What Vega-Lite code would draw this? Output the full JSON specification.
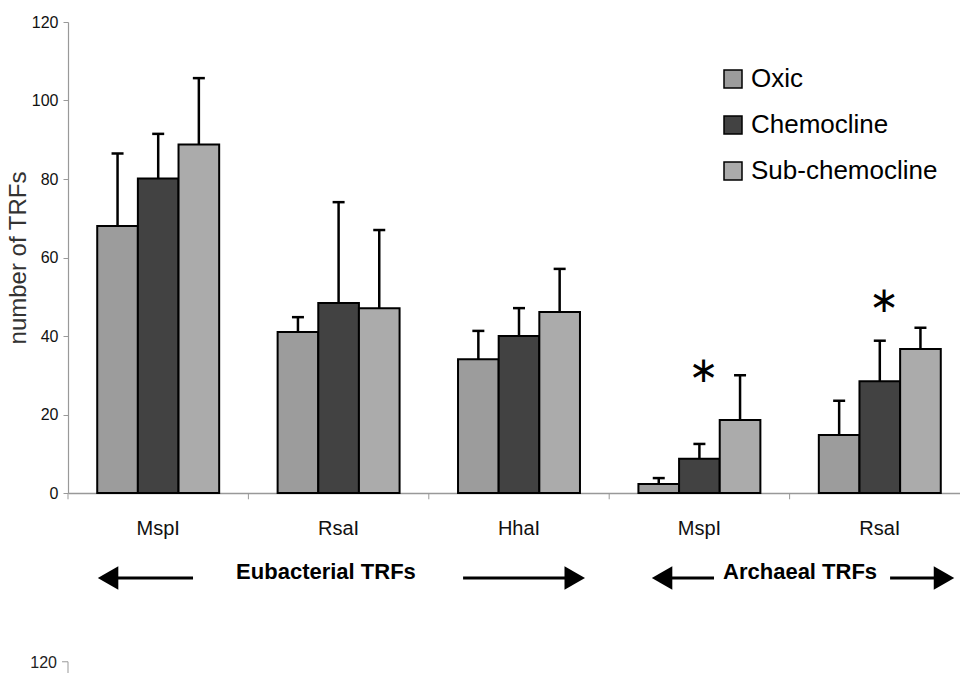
{
  "$schema": "https://vega.github.io/schema/vega-lite/v6.json",
  "autosize": "none",
  "width": 892,
  "height": 471,
  "padding": {"left": 68, "top": 22, "right": 0, "bottom": 180},
  "background": "white",
  "config": {"view": {"stroke": null}, "font": "Liberation Sans"},
  "datasets": {
    "bars": [
      {"cat": "E-MspI", "series": "Oxic", "value": 68.0, "upper": 86.5},
      {"cat": "E-MspI", "series": "Chemocline", "value": 80.1, "upper": 91.5},
      {"cat": "E-MspI", "series": "Sub-chemocline", "value": 88.8, "upper": 105.7},
      {"cat": "E-RsaI", "series": "Oxic", "value": 41.0, "upper": 44.8},
      {"cat": "E-RsaI", "series": "Chemocline", "value": 48.4, "upper": 74.1},
      {"cat": "E-RsaI", "series": "Sub-chemocline", "value": 47.1, "upper": 67.0},
      {"cat": "E-HhaI", "series": "Oxic", "value": 34.1, "upper": 41.3},
      {"cat": "E-HhaI", "series": "Chemocline", "value": 40.0, "upper": 47.1},
      {"cat": "E-HhaI", "series": "Sub-chemocline", "value": 46.1, "upper": 57.1},
      {"cat": "A-MspI", "series": "Oxic", "value": 2.3, "upper": 3.8},
      {"cat": "A-MspI", "series": "Chemocline", "value": 8.7, "upper": 12.5},
      {"cat": "A-MspI", "series": "Sub-chemocline", "value": 18.6, "upper": 30.0},
      {"cat": "A-RsaI", "series": "Oxic", "value": 14.8, "upper": 23.5},
      {"cat": "A-RsaI", "series": "Chemocline", "value": 28.5, "upper": 38.8},
      {"cat": "A-RsaI", "series": "Sub-chemocline", "value": 36.7, "upper": 42.1}
    ],
    "stars": [
      {"cat": "A-MspI", "series": "Chemocline", "y": 31.8, "label": "∗"},
      {"cat": "A-RsaI", "series": "Chemocline", "y": 49.7, "label": "∗"}
    ],
    "shafts": [
      {"u": 0.222, "u2": 0.693, "y": -21.66},
      {"u": 2.190, "u2": 2.809, "y": -21.66},
      {"u": 3.293, "u2": 3.581, "y": -21.66},
      {"u": 4.557, "u2": 4.856, "y": -21.66}
    ],
    "heads": [
      {"u": 0.222, "y": -21.66, "shape": "triangle-left"},
      {"u": 2.809, "y": -21.66, "shape": "triangle-right"},
      {"u": 3.293, "y": -21.66, "shape": "triangle-left"},
      {"u": 4.856, "y": -21.66, "shape": "triangle-right"}
    ],
    "groups": [
      {"u": 1.430, "y": -21.9, "label": "Eubacterial TRFs"},
      {"u": 4.058, "y": -21.9, "label": "Archaeal TRFs"}
    ],
    "xticks": [
      {"u": 0, "y": 0, "y2": -1.6},
      {"u": 1, "y": 0, "y2": -1.6},
      {"u": 2, "y": 0, "y2": -1.6},
      {"u": 3, "y": 0, "y2": -1.6},
      {"u": 4, "y": 0, "y2": -1.6},
      {"u": 0, "y": -43.0, "y2": -47.0}
    ],
    "nextTick": [
      {"u": -0.033, "u2": 0, "y": -43.0}
    ],
    "nextLabel": [
      {"u": -0.061, "y": -43.3, "label": "120"}
    ]
  },
  "layer": [
    {
      "data": {"name": "bars"},
      "encoding": {
        "x": {
          "field": "cat",
          "type": "nominal",
          "sort": null,
          "scale": {
            "domain": ["E-MspI", "E-RsaI", "E-HhaI", "A-MspI", "A-RsaI"],
            "range": [0, 902],
            "paddingInner": 0.324,
            "paddingOuter": 0.162
          },
          "axis": {
            "title": null,
            "labelExpr": "slice(datum.label, 2)",
            "labelAngle": 0,
            "tickSize": 0,
            "labelPadding": 25,
            "labelFontSize": 20,
            "labelFont": "Liberation Sans",
            "labelColor": "#111",
            "domainColor": "#999",
            "domainWidth": 1.5
          }
        },
        "xOffset": {
          "field": "series",
          "type": "nominal",
          "sort": null,
          "scale": {"domain": ["Oxic", "Chemocline", "Sub-chemocline"], "paddingInner": 0, "paddingOuter": 0}
        }
      },
      "layer": [
        {
          "mark": {"type": "bar", "stroke": "black", "strokeWidth": 2},
          "encoding": {
            "y": {
              "field": "value",
              "type": "quantitative",
              "scale": {"domain": [0, 120], "nice": false},
              "axis": {
                "title": "number of TRFs",
                "titleFont": "Liberation Sans",
                "titleFontSize": 24,
                "titleFontWeight": "normal",
                "titleColor": "#333",
                "titlePadding": 1,
                "values": [0, 20, 40, 60, 80, 100, 120],
                "labelFontSize": 16,
                "labelFont": "Liberation Sans",
                "labelColor": "#111",
                "labelPadding": 5,
                "tickColor": "#999",
                "tickSize": 5,
                "domainColor": "#999",
                "domainWidth": 1.2,
                "grid": false
              }
            },
            "fill": {
              "field": "series",
              "type": "nominal",
              "sort": null,
              "scale": {"domain": ["Oxic", "Chemocline", "Sub-chemocline"], "range": ["#9c9c9c", "#424242", "#ababab"]},
              "legend": {
                "title": null,
                "orient": "none",
                "legendX": 652,
                "legendY": 44,
                "symbolType": "square",
                "symbolSize": 324,
                "symbolStrokeColor": "black",
                "symbolStrokeWidth": 1.5,
                "symbolOpacity": 1,
                "labelFontSize": 26,
                "labelFont": "Liberation Sans",
                "labelColor": "black",
                "labelOffset": 5,
                "labelLimit": 400,
                "rowPadding": 20
              }
            }
          }
        },
        {
          "mark": {"type": "rule", "strokeWidth": 2.5, "color": "black"},
          "encoding": {
            "y": {"field": "value", "type": "quantitative", "scale": {"domain": [0, 120], "nice": false}},
            "y2": {"field": "upper"}
          }
        },
        {
          "mark": {"type": "tick", "size": 12, "thickness": 2.5, "color": "black", "opacity": 1},
          "encoding": {
            "y": {"field": "upper", "type": "quantitative", "scale": {"domain": [0, 120], "nice": false}}
          }
        },
        {
          "data": {"name": "stars"},
          "mark": {"type": "text", "font": "DejaVu Sans", "fontSize": 36, "fontWeight": "normal", "baseline": "alphabetic", "align": "center", "dy": 14, "dx": 4, "color": "black"},
          "encoding": {
            "y": {"field": "y", "type": "quantitative", "scale": {"domain": [0, 120], "nice": false}},
            "text": {"field": "label"}
          }
        }
      ]
    },
    {
      "encoding": {
        "x": {"field": "u", "type": "quantitative", "scale": {"domain": [0, 5], "range": [0, 902], "nice": false, "zero": false}, "axis": null}
      },
      "layer": [
        {
          "data": {"name": "shafts"},
          "mark": {"type": "rule", "strokeWidth": 3, "color": "black"},
          "encoding": {
            "x2": {"field": "u2"},
            "y": {"field": "y", "type": "quantitative", "scale": {"domain": [0, 120], "nice": false}}
          }
        },
        {
          "data": {"name": "heads"},
          "mark": {"type": "point", "filled": true, "color": "black", "opacity": 1, "size": 560, "strokeWidth": 0},
          "encoding": {
            "y": {"field": "y", "type": "quantitative", "scale": {"domain": [0, 120], "nice": false}},
            "shape": {"field": "shape", "type": "nominal", "scale": null}
          }
        },
        {
          "data": {"name": "groups"},
          "mark": {"type": "text", "font": "Liberation Sans", "fontWeight": "bold", "fontSize": 22, "baseline": "alphabetic", "align": "center", "color": "black"},
          "encoding": {
            "y": {"field": "y", "type": "quantitative", "scale": {"domain": [0, 120], "nice": false}},
            "text": {"field": "label"}
          }
        },
        {
          "data": {"name": "xticks"},
          "mark": {"type": "rule", "strokeWidth": 1, "color": "#999"},
          "encoding": {
            "y": {"field": "y", "type": "quantitative", "scale": {"domain": [0, 120], "nice": false}},
            "y2": {"field": "y2"}
          }
        },
        {
          "data": {"name": "nextTick"},
          "mark": {"type": "rule", "strokeWidth": 1, "color": "#999"},
          "encoding": {
            "x2": {"field": "u2"},
            "y": {"field": "y", "type": "quantitative", "scale": {"domain": [0, 120], "nice": false}}
          }
        },
        {
          "data": {"name": "nextLabel"},
          "mark": {"type": "text", "font": "Liberation Sans", "fontSize": 16, "baseline": "middle", "align": "right", "color": "#222"},
          "encoding": {
            "y": {"field": "y", "type": "quantitative", "scale": {"domain": [0, 120], "nice": false}},
            "text": {"field": "label"}
          }
        }
      ]
    }
  ],
  "resolve": {"scale": {"x": "independent"}}
}
